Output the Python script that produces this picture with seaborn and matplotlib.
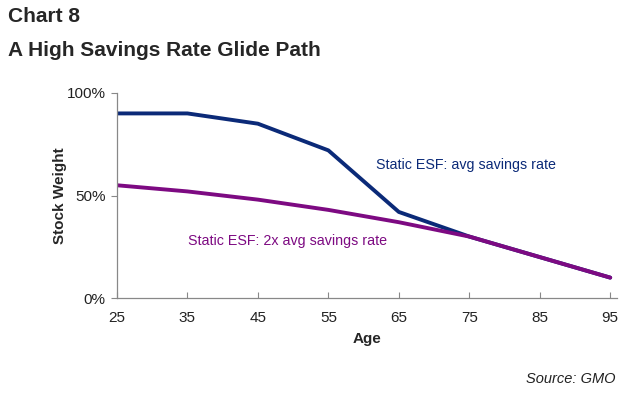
import matplotlib
matplotlib.use("Agg")
import matplotlib.pyplot as plt
import seaborn as sns
import pandas as pd
from matplotlib.ticker import PercentFormatter

# Data
ages = [25, 35, 45, 55, 65, 75, 85, 95]
avg_savings = [90, 90, 85, 72, 42, 30, 20, 10]
double_savings = [55, 52, 48, 43, 37, 30, 20, 10]

navy = "#0b2a78"
purple = "#7d0a82"

sns.set_style("white")
plt.rcParams['font.family'] = ['Liberation Sans', 'DejaVu Sans']

df = pd.DataFrame({"Age": ages, "avg": avg_savings, "x2": double_savings})

fig = plt.figure(figsize=(6.39, 3.97), dpi=100)
ax = fig.add_axes([0.183, 0.249, 0.783, 0.517])

sns.lineplot(data=df, x="Age", y="avg", color=navy, linewidth=2.8, ax=ax)
sns.lineplot(data=df, x="Age", y="x2", color=purple, linewidth=2.8, ax=ax)

ax.set_xlim(25, 96)
ax.set_ylim(0, 100)
ax.set_xticks(ages)
ax.set_yticks([0, 50, 100])
ax.yaxis.set_major_formatter(PercentFormatter(decimals=0))
ax.tick_params(axis="both", labelsize=11, length=4, width=0.8, color="#888888",
               left=True, bottom=True, labelcolor="#222222")
ax.tick_params(axis="x", direction="in", pad=9)
ax.tick_params(axis="y", direction="out", pad=4)
for s in ["top", "right"]:
    ax.spines[s].set_visible(False)
for s in ["left", "bottom"]:
    ax.spines[s].set_color("#888888")
    ax.spines[s].set_linewidth(0.9)

ax.set_xlabel("Age", fontsize=11, fontweight="bold", labelpad=5)
ax.set_ylabel("Stock Weight", fontsize=11, fontweight="bold", labelpad=0)

ax.text(61.8, 63, "Static ESF: avg savings rate", color=navy, fontsize=10.3)
ax.text(35.1, 26, "Static ESF: 2x avg savings rate", color=purple, fontsize=10.3)

fig.text(8 / 639, 1 - 17 / 397, "Chart 8", fontsize=15, fontweight="bold", va="center")
fig.text(8 / 639, 1 - 50 / 397, "A High Savings Rate Glide Path", fontsize=15,
         fontweight="bold", va="center")
fig.text(616 / 639, 1 - 379 / 397, "Source: GMO", fontsize=10.5, style="italic",
         ha="right", va="center", color="#222222")

fig.savefig("out.png", dpi=100)
